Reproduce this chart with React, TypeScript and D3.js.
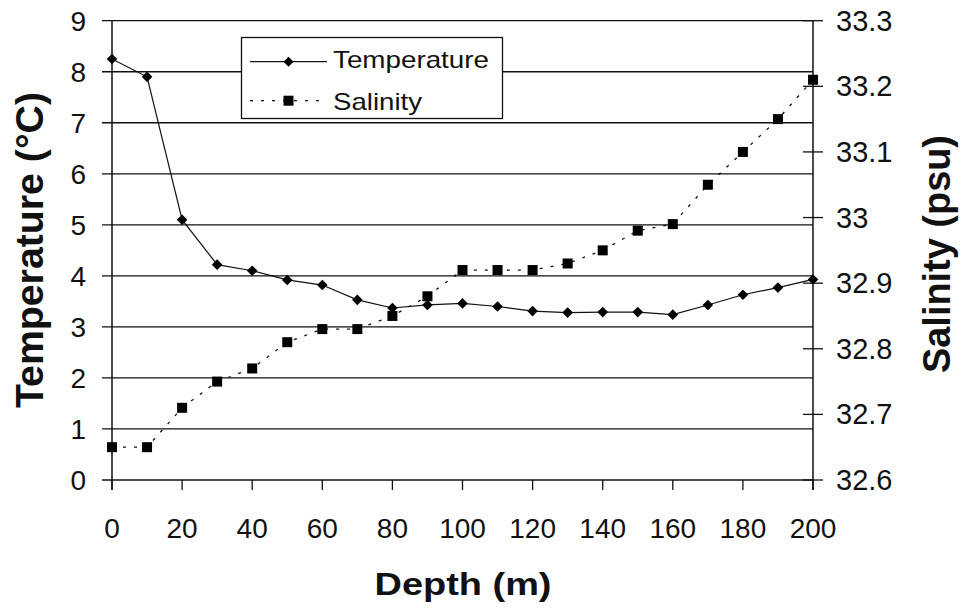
import React from "react";
import * as d3 from "d3";

// depth (m) of each sample
const depths = [0, 10, 20, 30, 40, 50, 60, 70, 80, 90, 100, 110, 120, 130, 140, 150, 160, 170, 180, 190, 200];
// temperature (°C)
const temperature = [8.25, 7.9, 5.1, 4.22, 4.1, 3.92, 3.82, 3.53, 3.37, 3.43, 3.46, 3.4, 3.31, 3.28, 3.29, 3.29, 3.24, 3.43, 3.63, 3.77, 3.93];
// salinity (psu)
const salinity = [32.65, 32.65, 32.71, 32.75, 32.77, 32.81, 32.83, 32.83, 32.85, 32.88, 32.92, 32.92, 32.92, 32.93, 32.95, 32.98, 32.99, 33.05, 33.1, 33.15, 33.21];

const depthTicks = [0, 20, 40, 60, 80, 100, 120, 140, 160, 180, 200];
const tempTicks = [0, 1, 2, 3, 4, 5, 6, 7, 8, 9];
const salTicks = ["32.6", "32.7", "32.8", "32.9", "33", "33.1", "33.2", "33.3"];

const W = 965;
const H = 611;
const left = 112;
const right = 813;
const top = 20.7;
const bottom = 480;
const FONT = "'Liberation Sans', Arial, sans-serif";

export default function App() {
  const x = d3.scaleLinear().domain([0, 200]).range([left, right]);
  const yT = d3.scaleLinear().domain([0, 9]).range([bottom, top]);
  const yS = d3.scaleLinear().domain([32.6, 33.3]).range([bottom, top]);

  const tempLine = d3
    .line<number>()
    .x((_, i) => x(depths[i]))
    .y((d) => yT(d));
  const salLine = d3
    .line<number>()
    .x((_, i) => x(depths[i]))
    .y((d) => yS(d));

  const diamond = (cx: number, cy: number, r = 5.3) =>
    `M${cx},${cy - r}L${cx + r},${cy}L${cx},${cy + r}L${cx - r},${cy}Z`;

  return (
    <svg
      width={W}
      height={H}
      style={{ position: "absolute", left: 0, top: 0, background: "#fff" }}
      fontFamily={FONT}
    >
      {/* gridlines + left ticks */}
      {tempTicks.map((t) => (
        <g key={t}>
          <line x1={left - 10} x2={right} y1={yT(t)} y2={yT(t)} stroke="#111" strokeWidth={1.3} />
          <text x={86} y={yT(t) + 10} fontSize={28} textAnchor="end" fill="#111">
            {t}
          </text>
        </g>
      ))}

      {/* axes */}
      <line x1={left} x2={left} y1={top} y2={bottom + 10} stroke="#111" strokeWidth={1.5} />
      <line x1={right} x2={right} y1={top} y2={bottom + 10} stroke="#111" strokeWidth={1.5} />

      {/* bottom ticks */}
      {depthTicks.map((d) => (
        <g key={d}>
          <line x1={x(d)} x2={x(d)} y1={bottom} y2={bottom + 10} stroke="#111" strokeWidth={1.3} />
          <text x={x(d)} y={538} fontSize={28} textAnchor="middle" fill="#111">
            {d}
          </text>
        </g>
      ))}

      {/* right ticks */}
      {salTicks.map((s) => (
        <g key={s}>
          <line x1={right - 10} x2={right + 10} y1={yS(+s)} y2={yS(+s)} stroke="#111" strokeWidth={1.3} />
          <text x={836} y={yS(+s) + 10} fontSize={29} fill="#111">
            {s}
          </text>
        </g>
      ))}

      {/* salinity series */}
      <path d={salLine(salinity) || ""} fill="none" stroke="#111" strokeWidth={1.3} strokeDasharray="3,8" />
      {salinity.map((s, i) => (
        <rect key={i} x={x(depths[i]) - 5} y={yS(s) - 5} width={10} height={10} fill="#000" />
      ))}

      {/* temperature series */}
      <path d={tempLine(temperature) || ""} fill="none" stroke="#111" strokeWidth={1.2} />
      {temperature.map((t, i) => (
        <path key={i} d={diamond(x(depths[i]), yT(t))} fill="#000" />
      ))}

      {/* legend */}
      <rect x={241.5} y={37.5} width={261} height={81} fill="#fff" stroke="#111" strokeWidth={1.3} />
      <line x1={250} x2={327} y1={61.7} y2={61.7} stroke="#111" strokeWidth={1.2} />
      <path d={diamond(288.5, 61.7, 5)} fill="#000" />
      <text x={333} y={68} fontSize={24} textLength={156} lengthAdjust="spacingAndGlyphs" fill="#111">
        Temperature
      </text>
      <line x1={250} x2={327} y1={100.7} y2={100.7} stroke="#111" strokeWidth={1.3} strokeDasharray="3,8" />
      <rect x={283.5} y={95.7} width={10} height={10} fill="#000" />
      <text x={333} y={110} fontSize={24} textLength={89} lengthAdjust="spacingAndGlyphs" fill="#111">
        Salinity
      </text>

      {/* axis titles */}
      <text
        transform="translate(43,250) rotate(-90)"
        fontSize={38}
        fontWeight="bold"
        textAnchor="middle"
        textLength={316}
        lengthAdjust="spacingAndGlyphs"
        fill="#111"
      >
        Temperature (°C)
      </text>
      <text
        transform="translate(950,254) rotate(-90)"
        fontSize={38}
        fontWeight="bold"
        textAnchor="middle"
        textLength={238}
        lengthAdjust="spacingAndGlyphs"
        fill="#111"
      >
        Salinity (psu)
      </text>
      <text
        x={463}
        y={595}
        fontSize={31}
        fontWeight="bold"
        textAnchor="middle"
        textLength={177}
        lengthAdjust="spacingAndGlyphs"
        fill="#111"
      >
        Depth (m)
      </text>
    </svg>
  );
}
